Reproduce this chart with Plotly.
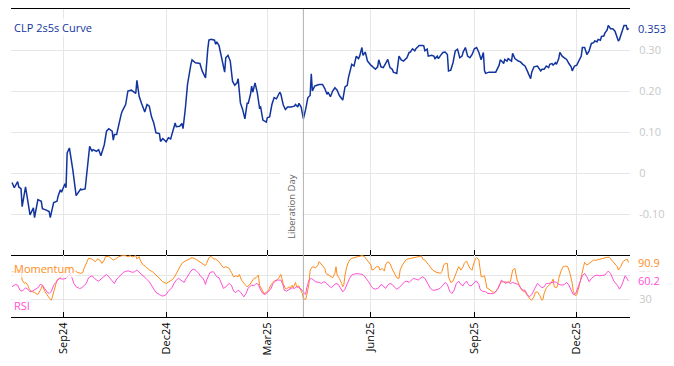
import plotly.graph_objects as go

# ---------------- data ----------------
curve_dates = [
    "2024-07-17","2024-07-19","2024-07-22","2024-07-23","2024-07-25","2024-07-26","2024-07-29","2024-07-30",
    "2024-08-01","2024-08-02","2024-08-05","2024-08-06","2024-08-09","2024-08-12","2024-08-13","2024-08-16",
    "2024-08-19","2024-08-20","2024-08-23","2024-08-26","2024-08-27","2024-08-29","2024-08-30","2024-09-02",
    "2024-09-03","2024-09-04","2024-09-06","2024-09-09","2024-09-10","2024-09-11","2024-09-12","2024-09-16",
    "2024-09-17","2024-09-20","2024-09-23","2024-09-24","2024-09-26","2024-09-27","2024-09-30","2024-10-02",
    "2024-10-04","2024-10-07","2024-10-09","2024-10-11","2024-10-14","2024-10-15","2024-10-16","2024-10-18",
    "2024-10-22","2024-10-23","2024-10-26","2024-10-28","2024-10-31","2024-11-02","2024-11-04","2024-11-05",
    "2024-11-07","2024-11-09","2024-11-12","2024-11-14","2024-11-16","2024-11-18","2024-11-20","2024-11-22",
    "2024-11-25","2024-11-26","2024-11-28","2024-12-01","2024-12-03","2024-12-05","2024-12-06","2024-12-09",
    "2024-12-10","2024-12-13","2024-12-15","2024-12-16","2024-12-18","2024-12-20","2024-12-23","2024-12-24",
    "2024-12-27","2024-12-30","2024-12-31","2025-01-02","2025-01-05","2025-01-07","2025-01-08","2025-01-10",
    "2025-01-13","2025-01-14","2025-01-15","2025-01-17","2025-01-20","2025-01-22","2025-01-23","2025-01-25",
    "2025-01-27","2025-01-29","2025-01-31","2025-02-02","2025-02-03","2025-02-05","2025-02-07","2025-02-09",
    "2025-02-11","2025-02-12","2025-02-14","2025-02-15","2025-02-16","2025-02-18","2025-02-20","2025-02-22",
    "2025-02-23","2025-02-25","2025-02-28","2025-03-01","2025-03-03","2025-03-05","2025-03-07","2025-03-09",
    "2025-03-12","2025-03-13","2025-03-15","2025-03-17","2025-03-19","2025-03-22","2025-03-25","2025-03-26",
    "2025-03-28","2025-03-29","2025-03-31","2025-04-02","2025-04-04","2025-04-06","2025-04-08","2025-04-09",
    "2025-04-10","2025-04-12","2025-04-14","2025-04-16","2025-04-19","2025-04-21","2025-04-23","2025-04-24",
    "2025-04-26","2025-04-28","2025-04-30","2025-05-02","2025-05-04","2025-05-07","2025-05-09","2025-05-11",
    "2025-05-12","2025-05-15","2025-05-17","2025-05-19","2025-05-21","2025-05-22","2025-05-24","2025-05-25",
    "2025-05-27","2025-05-29","2025-06-01","2025-06-03","2025-06-05","2025-06-07","2025-06-08","2025-06-10",
    "2025-06-12","2025-06-14","2025-06-16","2025-06-18","2025-06-20","2025-06-21","2025-06-24","2025-06-26",
    "2025-06-28","2025-06-30","2025-07-03","2025-07-05","2025-07-06","2025-07-08","2025-07-10","2025-07-11",
    "2025-07-14","2025-07-17","2025-07-18","2025-07-19","2025-07-21","2025-07-22","2025-07-25","2025-07-27",
    "2025-07-28","2025-07-30","2025-07-31","2025-08-02","2025-08-04","2025-08-06","2025-08-08","2025-08-09",
    "2025-08-11","2025-08-13","2025-08-15","2025-08-17","2025-08-19","2025-08-21","2025-08-22","2025-08-24",
    "2025-08-26","2025-08-28","2025-08-30","2025-09-01","2025-09-03","2025-09-05","2025-09-07","2025-09-09",
    "2025-09-10","2025-09-11","2025-09-14","2025-09-17","2025-09-20","2025-09-23","2025-09-24","2025-09-26",
    "2025-09-27","2025-09-28","2025-09-30","2025-10-01","2025-10-04","2025-10-05","2025-10-07","2025-10-10",
    "2025-10-12","2025-10-14","2025-10-16","2025-10-18","2025-10-19","2025-10-21","2025-10-22","2025-10-24",
    "2025-10-27","2025-10-28","2025-10-30","2025-10-31","2025-11-02","2025-11-04","2025-11-06","2025-11-07",
    "2025-11-09","2025-11-10","2025-11-12","2025-11-13","2025-11-15","2025-11-16","2025-11-18","2025-11-20",
    "2025-11-22","2025-11-24","2025-11-26","2025-11-27","2025-11-29","2025-12-01","2025-12-03","2025-12-05",
    "2025-12-06","2025-12-08","2025-12-10","2025-12-12","2025-12-14","2025-12-16","2025-12-17","2025-12-19",
    "2025-12-20","2025-12-22","2025-12-23","2025-12-25","2025-12-26","2025-12-28","2025-12-29","2025-12-31",
    "2026-01-02","2026-01-04","2026-01-06","2026-01-07","2026-01-08","2026-01-11","2026-01-12","2026-01-14",
    "2026-01-15","2026-01-16",
]
curve_values = [
    -0.023,-0.036,-0.021,-0.034,-0.038,-0.082,-0.034,-0.048,
    -0.085,-0.102,-0.085,-0.109,-0.065,-0.069,-0.087,-0.090,
    -0.094,-0.109,-0.072,-0.069,-0.056,-0.041,-0.047,-0.026,
    -0.036,0.049,0.061,0.008,-0.012,-0.033,-0.055,-0.039,
    -0.041,-0.039,0.028,0.065,0.053,0.057,0.053,0.057,
    0.042,0.069,0.102,0.108,0.102,0.080,0.094,0.094,
    0.143,0.151,0.167,0.200,0.202,0.197,0.194,0.226,
    0.187,0.171,0.149,0.167,0.163,0.137,0.122,0.098,
    0.096,0.077,0.084,0.076,0.086,0.083,0.094,0.122,
    0.113,0.114,0.121,0.108,0.155,0.216,0.265,0.276,
    0.269,0.267,0.267,0.249,0.232,0.302,0.324,0.326,
    0.324,0.314,0.320,0.311,0.273,0.246,0.281,0.287,
    0.273,0.224,0.214,0.220,0.230,0.171,0.155,0.132,
    0.170,0.170,0.192,0.212,0.197,0.220,0.196,0.159,
    0.161,0.129,0.124,0.135,0.137,0.167,0.184,0.181,
    0.197,0.192,0.167,0.155,0.161,0.161,0.163,0.167,
    0.161,0.170,0.161,0.132,0.155,0.184,0.189,0.242,
    0.200,0.212,0.214,0.216,0.216,0.206,0.192,0.197,
    0.186,0.200,0.208,0.202,0.189,0.178,0.210,0.214,
    0.232,0.265,0.261,0.285,0.279,0.285,0.306,0.287,
    0.295,0.273,0.263,0.257,0.253,0.259,0.276,0.259,
    0.257,0.267,0.277,0.257,0.253,0.246,0.243,0.285,
    0.276,0.273,0.281,0.294,0.295,0.303,0.298,0.303,
    0.311,0.311,0.310,0.298,0.302,0.285,0.287,0.285,
    0.279,0.285,0.279,0.287,0.294,0.295,0.289,0.249,
    0.251,0.269,0.298,0.302,0.281,0.285,0.295,0.306,
    0.285,0.281,0.289,0.303,0.306,0.294,0.276,0.294,
    0.249,0.243,0.246,0.246,0.246,0.263,0.276,0.271,
    0.267,0.277,0.273,0.279,0.273,0.292,0.279,0.273,
    0.271,0.265,0.261,0.249,0.241,0.230,0.246,0.259,
    0.261,0.257,0.249,0.253,0.253,0.261,0.257,0.265,
    0.267,0.263,0.269,0.265,0.279,0.294,0.285,0.281,
    0.277,0.267,0.259,0.249,0.261,0.263,0.273,0.285,
    0.306,0.306,0.289,0.298,0.316,0.318,0.322,0.320,
    0.326,0.324,0.333,0.334,0.341,0.349,0.360,0.352,
    0.352,0.346,0.330,0.322,0.326,0.351,0.360,0.360,
    0.349,0.353,
]

momentum_dates = [
    "2024-07-17","2024-07-20","2024-07-23","2024-07-25","2024-07-26","2024-07-28","2024-07-29","2024-07-31",
    "2024-08-01","2024-08-03","2024-08-06","2024-08-09","2024-08-12","2024-08-13","2024-08-15","2024-08-17",
    "2024-08-19","2024-08-21","2024-08-23","2024-08-25","2024-08-26","2024-08-28","2024-08-31","2024-09-03",
    "2024-09-07","2024-09-10","2024-09-13","2024-09-16","2024-09-18","2024-09-19","2024-09-21","2024-09-23",
    "2024-09-26","2024-09-29","2024-10-01","2024-10-03","2024-10-05","2024-10-07","2024-10-08","2024-10-11",
    "2024-10-13","2024-10-15","2024-10-17","2024-10-20","2024-10-23","2024-10-26","2024-10-28","2024-10-30",
    "2024-11-01","2024-11-04","2024-11-05","2024-11-07","2024-11-08","2024-11-10","2024-11-13","2024-11-16",
    "2024-11-19","2024-11-22","2024-11-24","2024-11-26","2024-11-28","2024-12-01","2024-12-03","2024-12-06",
    "2024-12-08","2024-12-11","2024-12-13","2024-12-15","2024-12-18","2024-12-21","2024-12-24","2024-12-27",
    "2024-12-30","2025-01-02","2025-01-05","2025-01-06","2025-01-08","2025-01-10","2025-01-12","2025-01-14",
    "2025-01-17","2025-01-19","2025-01-21","2025-01-23","2025-01-26","2025-01-28","2025-01-30","2025-02-01",
    "2025-02-03","2025-02-04","2025-02-06","2025-02-09","2025-02-11","2025-02-13","2025-02-15","2025-02-17",
    "2025-02-19","2025-02-21","2025-02-22","2025-02-24","2025-02-26","2025-02-28","2025-03-02","2025-03-04",
    "2025-03-07","2025-03-09","2025-03-11","2025-03-13","2025-03-14","2025-03-15","2025-03-17","2025-03-18",
    "2025-03-20","2025-03-21","2025-03-23","2025-03-24","2025-03-26","2025-03-27","2025-03-29","2025-03-30",
    "2025-04-01","2025-04-02","2025-04-04","2025-04-05","2025-04-07","2025-04-08","2025-04-10","2025-04-13",
    "2025-04-15","2025-04-16","2025-04-18","2025-04-19","2025-04-21","2025-04-22","2025-04-24","2025-04-26",
    "2025-04-28","2025-04-30","2025-05-01","2025-05-02","2025-05-04","2025-05-06","2025-05-07","2025-05-08",
    "2025-05-09","2025-05-11","2025-05-13","2025-05-15","2025-05-18","2025-05-21","2025-05-24","2025-05-26",
    "2025-05-28","2025-05-30","2025-06-01","2025-06-02","2025-06-04","2025-06-06","2025-06-08","2025-06-09",
    "2025-06-11","2025-06-13","2025-06-14","2025-06-16","2025-06-18","2025-06-20","2025-06-22","2025-06-24",
    "2025-06-26","2025-06-27","2025-06-29","2025-06-30","2025-07-02","2025-07-04","2025-07-07","2025-07-10",
    "2025-07-13","2025-07-16","2025-07-17","2025-07-19","2025-07-22","2025-07-24","2025-07-26","2025-07-28",
    "2025-07-31","2025-08-02","2025-08-03","2025-08-05","2025-08-07","2025-08-08","2025-08-09","2025-08-11",
    "2025-08-13","2025-08-15","2025-08-17","2025-08-18","2025-08-20","2025-08-22","2025-08-23","2025-08-25",
    "2025-08-26","2025-08-28","2025-08-30","2025-08-31","2025-09-02","2025-09-03","2025-09-05","2025-09-06",
    "2025-09-07","2025-09-08","2025-09-10","2025-09-11","2025-09-12","2025-09-14","2025-09-15","2025-09-17",
    "2025-09-19","2025-09-20","2025-09-22","2025-09-23","2025-09-25","2025-09-27","2025-09-29","2025-10-01",
    "2025-10-03","2025-10-05","2025-10-07","2025-10-08","2025-10-09","2025-10-11","2025-10-13","2025-10-16",
    "2025-10-18","2025-10-20","2025-10-22","2025-10-24","2025-10-25","2025-10-27","2025-10-29","2025-10-31",
    "2025-11-01","2025-11-02","2025-11-04","2025-11-06","2025-11-08","2025-11-10","2025-11-11","2025-11-13",
    "2025-11-14","2025-11-15","2025-11-17","2025-11-19","2025-11-21","2025-11-23","2025-11-25","2025-11-27",
    "2025-11-28","2025-11-30","2025-12-01","2025-12-03","2025-12-05","2025-12-07","2025-12-08","2025-12-10",
    "2025-12-11","2025-12-14","2025-12-16","2025-12-18","2025-12-20","2025-12-23","2025-12-25","2025-12-28",
    "2025-12-30","2026-01-01","2026-01-03","2026-01-06","2026-01-07","2026-01-09","2026-01-11","2026-01-13",
    "2026-01-15","2026-01-16",
]
momentum_values = [
    75.6,75.6,78.3,76.7,61.7,56.1,57.8,53.3,
    47.8,43.3,41.1,37.8,47.8,53.3,43.3,36.7,
    32.2,28.3,42.2,56.1,61.7,64.5,68.9,78.3,
    83.9,78.3,74.5,72.8,74.5,81.1,89.4,97.8,
    96.7,92.2,96.7,95.0,89.4,95.0,100.6,101.1,
    97.8,95.0,96.7,100.6,102.2,102.2,100.6,102.2,
    100.0,102.2,96.7,100.6,95.0,87.8,83.9,78.3,
    75.6,70.0,65.6,61.7,58.9,56.1,57.8,61.7,
    65.6,75.6,83.9,89.4,93.3,96.7,98.9,96.7,
    93.3,89.4,85.6,89.4,98.9,101.1,96.7,96.7,
    92.2,86.7,82.2,83.9,81.1,74.5,67.2,68.9,
    67.2,71.1,61.7,54.5,50.6,53.3,60.0,64.5,
    65.6,70.0,53.3,45.0,39.4,41.1,45.0,53.3,
    60.0,61.7,64.5,71.1,64.5,56.1,47.8,46.7,
    50.6,47.8,53.3,48.9,57.8,50.6,52.2,47.8,
    39.4,31.1,29.4,36.7,56.1,78.3,83.9,82.2,
    86.7,92.2,87.8,83.9,81.1,72.8,70.0,67.2,
    65.6,72.8,83.9,70.0,64.5,56.1,50.6,54.5,
    70.0,86.7,95.0,97.8,98.9,100.6,102.2,101.1,
    96.7,92.2,86.7,78.3,80.0,83.9,83.9,78.3,
    81.1,76.7,86.7,92.2,89.4,80.0,72.8,65.6,
    64.5,78.3,86.7,89.4,95.0,96.7,97.8,98.9,
    100.0,101.7,96.7,95.0,87.8,82.2,78.3,75.6,
    74.5,72.8,75.6,87.8,89.4,89.4,67.2,57.8,
    60.0,70.0,80.0,83.9,78.3,83.9,89.4,93.3,
    89.4,81.1,78.3,86.7,96.7,98.9,95.0,81.1,
    67.2,67.2,68.9,60.0,48.9,46.7,45.0,42.2,
    41.1,43.3,47.8,53.3,58.9,58.9,57.8,57.8,
    58.9,78.3,81.1,67.2,61.7,53.3,45.0,42.2,
    36.7,31.1,28.3,33.9,41.1,42.2,36.7,28.3,
    30.0,39.4,48.9,52.2,56.1,63.3,50.6,48.9,
    53.3,64.5,76.7,83.9,85.0,83.9,72.8,56.1,
    42.2,35.6,37.8,50.6,70.0,83.9,91.1,86.7,
    87.8,92.2,95.0,94.5,95.6,96.7,97.8,99.5,
    99.5,95.0,89.4,83.9,78.3,83.9,92.2,95.0,
    96.1,90.9,
]

rsi_dates = [
    "2024-07-17","2024-07-20","2024-07-22","2024-07-24","2024-07-26","2024-07-29","2024-07-31","2024-08-02",
    "2024-08-04","2024-08-07","2024-08-09","2024-08-11","2024-08-13","2024-08-15","2024-08-17","2024-08-19",
    "2024-08-21","2024-08-23","2024-08-26","2024-08-28","2024-08-31","2024-09-03","2024-09-05","2024-09-07",
    "2024-09-08","2024-09-10","2024-09-12","2024-09-15","2024-09-17","2024-09-19","2024-09-21","2024-09-23",
    "2024-09-26","2024-09-28","2024-09-30","2024-10-02","2024-10-05","2024-10-07","2024-10-09","2024-10-11",
    "2024-10-14","2024-10-16","2024-10-18","2024-10-20","2024-10-22","2024-10-24","2024-10-27","2024-10-29",
    "2024-11-01","2024-11-03","2024-11-05","2024-11-06","2024-11-08","2024-11-10","2024-11-13","2024-11-16",
    "2024-11-18","2024-11-20","2024-11-22","2024-11-25","2024-11-27","2024-11-29","2024-12-01","2024-12-03",
    "2024-12-06","2024-12-08","2024-12-10","2024-12-12","2024-12-15","2024-12-17","2024-12-18","2024-12-21",
    "2024-12-23","2024-12-25","2024-12-27","2024-12-30","2025-01-01","2025-01-03","2025-01-05","2025-01-06",
    "2025-01-08","2025-01-09","2025-01-12","2025-01-13","2025-01-15","2025-01-17","2025-01-20","2025-01-21",
    "2025-01-23","2025-01-26","2025-01-28","2025-01-30","2025-02-01","2025-02-03","2025-02-05","2025-02-08",
    "2025-02-10","2025-02-12","2025-02-15","2025-02-17","2025-02-19","2025-02-21","2025-02-23","2025-02-25",
    "2025-02-27","2025-03-02","2025-03-04","2025-03-06","2025-03-08","2025-03-10","2025-03-13","2025-03-15",
    "2025-03-16","2025-03-18","2025-03-21","2025-03-23","2025-03-25","2025-03-27","2025-03-29","2025-03-31",
    "2025-04-02","2025-04-04","2025-04-05","2025-04-07","2025-04-09","2025-04-11","2025-04-13","2025-04-16",
    "2025-04-18","2025-04-20","2025-04-22","2025-04-24","2025-04-27","2025-04-29","2025-05-01","2025-05-03",
    "2025-05-05","2025-05-07","2025-05-09","2025-05-11","2025-05-13","2025-05-15","2025-05-18","2025-05-21",
    "2025-05-24","2025-05-26","2025-05-28","2025-05-30","2025-06-01","2025-06-03","2025-06-05","2025-06-08",
    "2025-06-10","2025-06-12","2025-06-14","2025-06-16","2025-06-18","2025-06-20","2025-06-23","2025-06-24",
    "2025-06-26","2025-06-29","2025-07-01","2025-07-03","2025-07-05","2025-07-07","2025-07-09","2025-07-11",
    "2025-07-13","2025-07-15","2025-07-17","2025-07-19","2025-07-21","2025-07-23","2025-07-24","2025-07-26",
    "2025-07-28","2025-07-31","2025-08-02","2025-08-04","2025-08-06","2025-08-08","2025-08-10","2025-08-12",
    "2025-08-14","2025-08-16","2025-08-18","2025-08-20","2025-08-22","2025-08-23","2025-08-25","2025-08-26",
    "2025-08-28","2025-08-30","2025-09-02","2025-09-03","2025-09-05","2025-09-06","2025-09-08","2025-09-11",
    "2025-09-13","2025-09-15","2025-09-18","2025-09-20","2025-09-22","2025-09-24","2025-09-25","2025-09-27",
    "2025-09-29","2025-10-01","2025-10-03","2025-10-05","2025-10-07","2025-10-10","2025-10-12","2025-10-14",
    "2025-10-16","2025-10-18","2025-10-20","2025-10-22","2025-10-25","2025-10-27","2025-10-29","2025-10-31",
    "2025-11-02","2025-11-04","2025-11-06","2025-11-09","2025-11-11","2025-11-13","2025-11-15","2025-11-18",
    "2025-11-20","2025-11-22","2025-11-24","2025-11-26","2025-11-28","2025-11-30","2025-12-02","2025-12-04",
    "2025-12-06","2025-12-08","2025-12-10","2025-12-12","2025-12-14","2025-12-17","2025-12-19","2025-12-21",
    "2025-12-23","2025-12-26","2025-12-28","2025-12-29","2025-12-31","2026-01-02","2026-01-03","2026-01-06",
    "2026-01-08","2026-01-10","2026-01-12","2026-01-13","2026-01-15","2026-01-16",
]
rsi_values = [
    50.6,54.5,53.3,45.0,43.3,48.9,46.7,42.2,
    43.3,46.7,48.9,54.5,53.3,47.8,42.2,39.4,
    43.3,53.3,60.0,64.5,63.3,64.5,68.9,72.8,
    67.2,56.1,50.6,47.8,48.9,53.3,56.1,65.6,
    68.9,65.6,61.7,60.0,64.5,68.9,71.1,67.2,
    60.0,56.1,63.3,67.2,71.1,74.5,76.7,76.7,
    74.5,75.6,78.3,76.7,72.8,68.9,64.5,58.9,
    53.3,46.7,41.1,37.8,35.6,35.6,37.8,43.3,
    48.9,56.1,61.7,64.5,60.0,57.8,61.7,71.1,
    76.7,80.0,78.3,72.8,67.2,64.5,54.5,61.7,
    70.0,74.5,75.6,72.8,67.2,65.6,53.3,47.8,
    50.6,56.1,53.3,43.3,41.1,45.0,42.2,33.9,
    39.4,48.9,53.3,52.2,56.1,54.5,45.0,39.4,
    37.8,42.2,46.7,56.1,60.0,61.7,61.7,53.3,
    45.0,43.3,46.7,48.9,47.8,50.6,48.9,46.7,
    42.2,37.8,48.9,61.7,64.5,61.7,58.9,57.8,
    56.1,58.9,57.8,53.3,48.9,53.3,56.1,54.5,
    48.9,42.2,46.7,56.1,64.5,70.0,72.2,72.2,
    71.1,68.9,64.5,58.9,52.2,47.8,46.7,48.9,
    54.5,52.2,47.8,53.3,56.1,54.5,47.8,46.7,
    48.9,56.1,58.9,60.0,57.8,61.7,64.5,63.3,
    61.7,64.5,67.2,64.5,57.8,50.6,47.8,45.0,
    45.0,46.7,48.9,53.3,57.8,54.5,43.3,39.4,
    45.0,56.1,60.0,54.5,52.2,56.1,60.0,56.1,
    52.2,53.3,60.0,60.0,54.5,46.7,43.3,42.2,
    39.4,39.4,39.4,42.2,47.8,56.1,61.7,58.9,
    56.1,58.9,56.1,57.8,56.1,54.5,48.9,45.0,
    45.0,37.8,33.9,37.8,48.9,56.1,53.3,48.9,
    50.6,56.1,56.1,57.8,58.9,57.8,54.5,53.3,
    54.5,57.8,53.3,45.0,37.8,39.4,48.9,60.0,
    68.9,72.8,67.2,58.9,64.5,68.9,70.0,68.9,
    68.9,70.0,74.5,76.7,72.8,65.6,60.0,53.3,
    46.7,53.3,65.6,68.9,63.3,60.2,
]

x_tick_dates = ["2024-09-01","2024-12-01","2025-03-01","2025-06-01","2025-09-01","2025-12-01"]
x_tick_labels = ["Sep24","Dec24","Mar25","Jun25","Sep25","Dec25"]
curve_tick_vals = [-0.1, 0, 0.1, 0.2, 0.3]
curve_tick_text = ["-0.10", "0", "0.10", "0.20", "0.30"]
osc_tick_vals = [30, 70]
osc_tick_text = ["30", "70"]
event_date = "2025-04-02"
event_label = "Liberation Day"
x_range = ["2024-07-16 02:00", "2026-01-17 08:00"]

# ---------------- styles ----------------
BLUE = "#12349e"
ORANGE = "#ff8c1a"
MAGENTA = "#ff4fd6"
GRID = "#e6e6e6"
TICKGRAY = "#c8c8c8"
FONT = "Open Sans, DejaVu Sans, sans-serif"

fig = go.Figure()
fig.add_trace(go.Scatter(x=curve_dates, y=curve_values, mode="lines",
                         line=dict(color=BLUE, width=1.5), xaxis="x", yaxis="y"))
fig.add_trace(go.Scatter(x=momentum_dates, y=momentum_values, mode="lines",
                         line=dict(color=ORANGE, width=1), xaxis="x2", yaxis="y2"))
fig.add_trace(go.Scatter(x=rsi_dates, y=rsi_values, mode="lines",
                         line=dict(color=MAGENTA, width=1), xaxis="x2", yaxis="y2"))

split = 62 / 308.0

common_x = dict(range=x_range, type="date", tickvals=x_tick_dates, ticktext=x_tick_labels,
                showgrid=True, gridcolor=GRID, gridwidth=1, zeroline=False,
                showline=True, linecolor="black", linewidth=1,
                ticks="inside", ticklen=5, tickcolor="black")

# page body adds an 8px offset, so the figure is sized to fit inside the window
fig.update_layout(
    width=666, height=358,
    margin=dict(l=3, r=44, t=1, b=49, autoexpand=False),
    paper_bgcolor="white", plot_bgcolor="white",
    showlegend=False,
    font=dict(family=FONT, size=11, color="black"),
    xaxis=dict(common_x, domain=[0, 1], anchor="y", showticklabels=False, mirror=True),
    xaxis2=dict(common_x, domain=[0, 1], anchor="y2", showticklabels=True, tickangle=-90,
                tickfont=dict(size=11, color="black")),
    yaxis=dict(domain=[split, 1], range=[-0.2, 0.4], side="right",
               tickvals=curve_tick_vals, ticktext=curve_tick_text,
               tickfont=dict(size=11, color=TICKGRAY),
               showgrid=True, gridcolor=GRID, zeroline=False,
               ticks="outside", ticklen=6, tickcolor="rgba(0,0,0,0)", showline=False),
    yaxis2=dict(domain=[0, split], range=[0.5, 103.3], side="right",
                tickvals=osc_tick_vals, ticktext=osc_tick_text,
                tickfont=dict(size=11, color=TICKGRAY),
                showgrid=True, gridcolor=GRID, zeroline=False,
                ticks="outside", ticklen=6, tickcolor="rgba(0,0,0,0)", showline=False),
)

# event line across both panels
fig.add_shape(type="line", xref="x", yref="paper", x0=event_date, x1=event_date, y0=0, y1=1,
              line=dict(color="#b0b0b0", width=1), layer="above")

annotations = [
    dict(text="CLP 2s5s Curve", xref="paper", yref="y domain", x=0, y=1, xshift=1, yshift=-9,
         xanchor="left", yanchor="top", showarrow=False, font=dict(size=11, color=BLUE),
         bgcolor="rgba(255,255,255,0.8)"),
    dict(text=f"{curve_values[-1]:.3f}", xref="paper", yref="y", x=1, y=curve_values[-1],
         xanchor="left", yanchor="middle", xshift=6, showarrow=False, font=dict(size=11, color=BLUE)),
    dict(text=f"{momentum_values[-1]:.1f}", xref="paper", yref="y2", x=1, y=momentum_values[-1],
         xanchor="left", yanchor="middle", xshift=6, showarrow=False, font=dict(size=11, color=ORANGE)),
    dict(text=f"{rsi_values[-1]:.1f}", xref="paper", yref="y2", x=1, y=rsi_values[-1],
         xanchor="left", yanchor="middle", xshift=6, showarrow=False, font=dict(size=11, color=MAGENTA),
         bgcolor="white"),
    dict(text="Momentum", xref="paper", yref="y2 domain", x=0, y=0.79, xshift=1,
         xanchor="left", yanchor="middle", showarrow=False, font=dict(size=11, color=ORANGE),
         bgcolor="rgba(255,255,255,0.75)"),
    dict(text="RSI", xref="paper", yref="y2 domain", x=0, y=0.18, xshift=1,
         xanchor="left", yanchor="middle", showarrow=False, font=dict(size=11, color=MAGENTA),
         bgcolor="rgba(255,255,255,0.75)"),
    dict(text=event_label, xref="x", yref="y", x=event_date, y=-0.172, textangle=-90,
         xanchor="right", yanchor="bottom", xshift=-1, showarrow=False, borderpad=4,
         font=dict(size=9.5, color="#666666"), bgcolor="white"),
]
fig.update_layout(annotations=annotations)

fig.write_html("out.html")
